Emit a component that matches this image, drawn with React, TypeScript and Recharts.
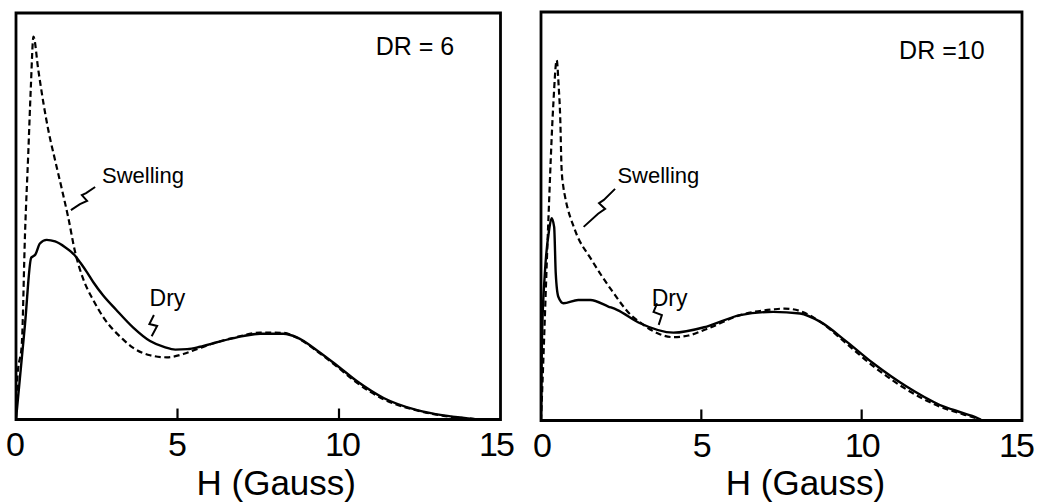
import React from 'react'
import { LineChart, Line, XAxis, YAxis, ReferenceArea, ReferenceLine, ReferenceDot } from 'recharts'

type Pt = [number, number]

// H (Gauss) vs distribution, arbitrary units (0 = axis, 100 = top of frame)
const leftDry: Pt[] = [
  [0, 0], [0.28, 23.5], [0.47, 39.8], [0.52, 40.1], [0.6, 40.6], [0.74, 43.3], [0.95, 44.2],
  [1.21, 43.8], [1.52, 42.4], [1.7, 41.3], [1.83, 40.3], [2.0, 38.5], [2.2, 36.2], [2.4, 33.7],
  [2.7, 30.5], [3.1, 27.0], [3.63, 22.6], [4.15, 19.3], [4.6, 17.8], [4.93, 17.2], [5.3, 17.3],
  [5.7, 17.9], [6.22, 19.0], [6.84, 20.2], [7.56, 21.1], [8.28, 21.1], [8.7, 20.2], [9.32, 17.0],
  [9.94, 13.3], [10.56, 9.4], [11.38, 5.3], [12.42, 2.3], [13.24, 1.0], [14.07, 0.2], [14.3, 0],
]

const leftSwelling: Pt[] = [
  [0, 0], [0.05, 11], [0.18, 18.6], [0.28, 45.9], [0.38, 65.5], [0.46, 81.9], [0.54, 94.2],
  [0.69, 86.0], [0.85, 77.8], [1.0, 71.2], [1.21, 63.8], [1.41, 57.0], [1.62, 49.6], [1.83, 41.2],
  [2.08, 34.6], [2.39, 29.4], [2.7, 25.2], [3.33, 19.6], [3.63, 17.6], [4.15, 15.8], [4.67, 15.3],
  [5.18, 16.1], [5.7, 17.6], [6.22, 19.0], [6.84, 20.3], [7.56, 21.4], [8.28, 21.3], [8.7, 20.1],
  [9.32, 16.8], [9.94, 13.0], [10.56, 9.0], [11.38, 5.0], [12.42, 2.2], [13.24, 0.9], [14.07, 0.2],
  [14.3, 0],
]

const rightDry: Pt[] = [
  [0, 0], [0.03, 20], [0.12, 36], [0.25, 46.5], [0.33, 49.5], [0.41, 47.4], [0.46, 36.0],
  [0.54, 30.3], [0.7, 28.7], [1.16, 29.5], [1.54, 29.5], [2.1, 27.9], [2.37, 27.1], [3.09, 23.8],
  [4.13, 21.5], [5.17, 23.0], [6.21, 25.8], [7.24, 26.6], [8.08, 26.2], [8.7, 24.2], [9.53, 19.3],
  [10.36, 14.0], [11.4, 8.3], [12.44, 3.8], [13.17, 1.8], [13.69, 0.3], [13.75, 0],
]

const rightSwelling: Pt[] = [
  [0, 0], [0.05, 10], [0.23, 49.1], [0.38, 76.8], [0.49, 88.2], [0.55, 82], [0.6, 74],
  [0.64, 62], [0.7, 57], [0.75, 54.8], [1.06, 46.6], [1.58, 39.3], [2.2, 31.9], [2.83, 25.6],
  [3.09, 24.0], [3.65, 21.3], [4.13, 20.4], [4.6, 20.8], [5.17, 22.4], [6.21, 25.8], [7.24, 27.2],
  [7.6, 27.4], [8.08, 26.8], [8.7, 24.2], [9.53, 18.8], [10.36, 13.3], [11.4, 7.6], [12.44, 3.4],
  [13.17, 1.5], [13.69, 0.2], [13.75, 0],
]

// little zig-zag leader marks from the labels to the curves
const leftSwellLeader: Pt[] = [[1.7, 51.5], [1.98, 53.0], [2.2, 53.8], [2.04, 55.2], [2.17, 55.7], [2.45, 57.2]]
const leftDryLeader: Pt[] = [[4.2, 20.5], [4.37, 23.0], [4.13, 23.5], [4.27, 25.7]]
const rightSwellLeader: Pt[] = [[1.33, 47.4], [1.78, 50.6], [2.0, 51.8], [1.81, 53.2], [1.96, 54.0], [2.31, 56.7]]
const rightDryLeader: Pt[] = [[3.67, 23.4], [3.77, 25.8], [3.51, 26.6], [3.62, 28.7]]

const xTicks = [0, 5, 10, 15]
const innerTicks = [5, 10]

const FONT = '"Liberation Sans", Arial, sans-serif'

const toRows = (pts: Pt[]) => pts.map(([x, y]) => ({ x, y }))

type PanelProps = {
  width: number
  marginTop: number
  marginLeft: number
  marginRight: number
  plotH: number
  dry: Pt[]
  swelling: Pt[]
  swellLeader: Pt[]
  dryLeader: Pt[]
  title: string
  titlePos: Pt
  swellPos: Pt
  dryPos: Pt
  titleDx: number
  tickShift: Record<number, number>
}

function Panel(p: PanelProps) {
  const axisH = 502 - p.marginTop - p.plotH
  const txt = (value: string, size: number) => ({
    value,
    position: 'center' as const,
    fontSize: size,
    fill: '#000',
    fontFamily: FONT,
  })
  const renderTick = (props: any) => {
    const { x, y, payload } = props
    return (
      <text
        x={x + (p.tickShift[payload.value] ?? 0)}
        y={y}
        dy="0.71em"
        textAnchor="middle"
        fontSize={34}
        fontFamily={FONT}
        letterSpacing={-2}
        fill="#000"
      >
        {payload.value}
      </text>
    )
  }
  return (
    <LineChart
      width={p.width}
      height={502}
      margin={{ top: p.marginTop, left: p.marginLeft, right: p.marginRight, bottom: 0 }}
    >
      <XAxis
        type="number"
        dataKey="x"
        domain={[0, 15]}
        ticks={xTicks}
        allowDataOverflow
        height={axisH}
        axisLine={false}
        tickLine={false}
        tickSize={0}
        tickMargin={12}
        tick={renderTick}
        label={{
          value: 'H (Gauss)',
          position: 'insideBottom',
          offset: 7,
          dx: p.titleDx,
          fontSize: 35,
          fill: '#000',
          fontFamily: FONT,
        }}
      />
      <YAxis hide type="number" domain={[0, 100]} allowDataOverflow />
      <ReferenceArea x1={0} x2={15} y1={0} y2={100} fill="none" stroke="#000" strokeWidth={2.8} />
      {innerTicks.map((t) => (
        <ReferenceLine key={t} segment={[{ x: t, y: 0 }, { x: t, y: 2.7 }]} stroke="#000" strokeWidth={2.2} />
      ))}
      <Line
        data={toRows(p.swelling)}
        dataKey="y"
        type="monotone"
        stroke="#000"
        strokeWidth={2.2}
        strokeDasharray="6 3.5"
        dot={false}
        activeDot={false}
        isAnimationActive={false}
      />
      <Line
        data={toRows(p.dry)}
        dataKey="y"
        type="monotone"
        stroke="#000"
        strokeWidth={2.4}
        dot={false}
        activeDot={false}
        isAnimationActive={false}
      />
      <Line
        data={toRows(p.swellLeader)}
        dataKey="y"
        type="linear"
        stroke="#000"
        strokeWidth={2}
        dot={false}
        activeDot={false}
        isAnimationActive={false}
      />
      <Line
        data={toRows(p.dryLeader)}
        dataKey="y"
        type="linear"
        stroke="#000"
        strokeWidth={2}
        dot={false}
        activeDot={false}
        isAnimationActive={false}
      />
      <ReferenceDot x={p.titlePos[0]} y={p.titlePos[1]} r={0} stroke="none" label={txt(p.title, 25)} />
      <ReferenceDot x={p.swellPos[0]} y={p.swellPos[1]} r={0} stroke="none" label={txt('Swelling', 22)} />
      <ReferenceDot x={p.dryPos[0]} y={p.dryPos[1]} r={0} stroke="none" label={txt('Dry', 23)} />
    </LineChart>
  )
}

export default function App() {
  return (
    <div style={{ position: 'absolute', left: 0, top: 0, width: 1037, height: 502, background: '#fff' }}>
      <div style={{ position: 'absolute', left: 0, top: 0 }}>
        <Panel
          width={520}
          marginTop={13}
          marginLeft={16}
          marginRight={19.5}
          plotH={406.5}
          dry={leftDry}
          swelling={leftSwelling}
          swellLeader={leftSwellLeader}
          dryLeader={leftDryLeader}
          title="DR = 6"
          titlePos={[12.35, 91.8]}
          swellPos={[3.93, 60.1]}
          dryPos={[4.69, 30.0]}
          titleDx={18}
          tickShift={{ 0: -1.5, 5: -1, 10: 3, 15: -4.5 }}
        />
      </div>
      <div style={{ position: 'absolute', left: 520, top: 0 }}>
        <Panel
          width={517}
          marginTop={12}
          marginLeft={21}
          marginRight={15}
          plotH={408.5}
          dry={rightDry}
          swelling={rightSwelling}
          swellLeader={rightSwellLeader}
          dryLeader={rightDryLeader}
          title="DR =10"
          titlePos={[12.5, 90.7]}
          swellPos={[3.66, 60.1]}
          dryPos={[4.01, 30.1]}
          titleDx={24}
          tickShift={{ 0: 0.5, 5: 0, 10: 0, 15: -6 }}
        />
      </div>
    </div>
  )
}
